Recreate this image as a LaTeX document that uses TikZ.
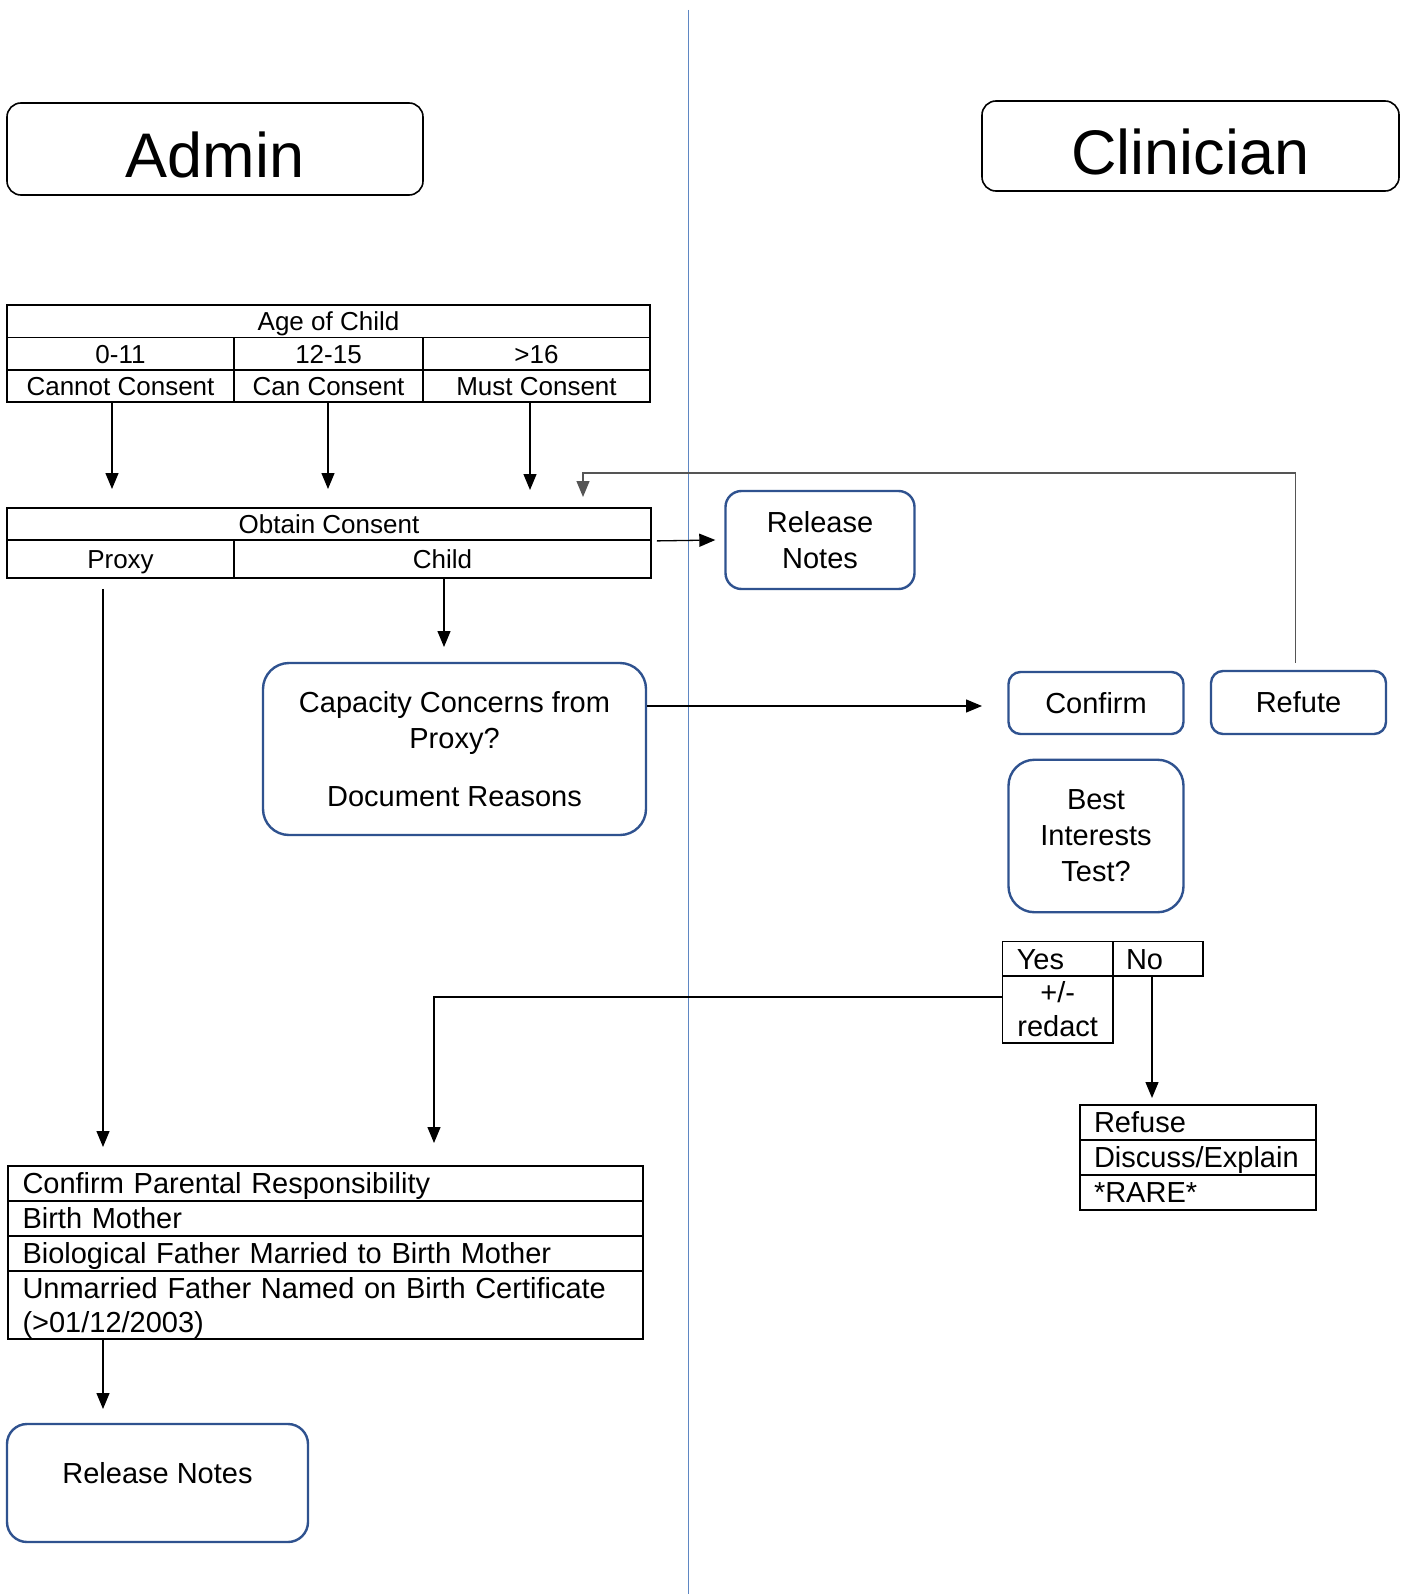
\documentclass[tikz,border=0pt]{standalone}
\usepackage{fontspec}
\setmainfont{Liberation Sans}
\usetikzlibrary{arrows.meta}
\definecolor{boxblue}{RGB}{47,82,143}
\definecolor{divblue}{RGB}{95,135,195}
\definecolor{fbgray}{RGB}{85,85,85}
\begin{document}
\begin{tikzpicture}[x=1pt,y=-1pt,
  one/.style={text height=24.6pt, text depth=3.9pt},
  cell/.style={draw=black, line width=1.8pt, rectangle, inner sep=0pt, text height=22pt, text depth=3.4pt, font=\fontsize{26}{30}\selectfont},
  lcell/.style={draw=black, line width=1.8pt, rectangle, inner sep=0pt, align=left, font=\fontsize{29}{34}\selectfont},
  ccell/.style={draw=black, line width=1.8pt, rectangle, inner sep=0pt, align=center, font=\fontsize{29}{34}\selectfont},
  bluebox/.style={draw=boxblue, line width=2.4pt, rectangle, inner sep=0pt, align=center, font=\fontsize{29}{36}\selectfont},
  titlebox/.style={draw=black, line width=1.6pt, rectangle, rounded corners=14pt, inner sep=0pt, text height=58pt, text depth=0pt, font=\fontsize{63}{70}\selectfont},
  arr/.style={line width=1.3pt, draw=black, -{Triangle[length=16pt,width=13pt]}},
]
\fill[white] (0,0) rectangle (1404,1594);
\useasboundingbox (0,0) rectangle (1404,1594);

% divider
\draw[divblue, line width=1pt] (688,10) -- (688,1594);

% titles
\node[titlebox, minimum width=416pt, minimum height=92pt] (admin) at (215,149) {Admin};
\node[titlebox, minimum width=417pt, minimum height=90pt] (clinician) at (1190.5,146) {Clinician};

% age table
\node[cell, minimum width=643pt, minimum height=32.5pt] (agehead) at (328.5,321.25) {Age of Child};
\node[cell, minimum width=227pt, minimum height=32.5pt] (age1) at (120.5,353.75) {0-11};
\node[cell, minimum width=189pt, minimum height=32.5pt] (age2) at (328.5,353.75) {12-15};
\node[cell, minimum width=227pt, minimum height=32.5pt] (age3) at (536.5,353.75) {>16};
\node[cell, minimum width=227pt, minimum height=32pt] (cons1) at (120.5,386) {Cannot Consent};
\node[cell, minimum width=189pt, minimum height=32pt] (cons2) at (328.5,386) {Can Consent};
\node[cell, minimum width=227pt, minimum height=32pt] (cons3) at (536.5,386) {Must Consent};

% obtain consent table
\node[cell, minimum width=644pt, minimum height=32pt] (obtain) at (329,524) {Obtain Consent};
\node[cell, minimum width=227pt, minimum height=38pt] (proxy) at (120.5,559) {Proxy};
\node[cell, minimum width=417pt, minimum height=38pt] (child) at (442.5,559) {Child};

% arrows age -> obtain
\coordinate (tip1) at (112,489);
\coordinate (tip2) at (328,489);
\coordinate (tip3) at (530,490);
\draw[arr] (tip1 |- cons1.south) -- (tip1);
\draw[arr] (tip2 |- cons2.south) -- (tip2);
\draw[arr] (tip3 |- cons3.south) -- (tip3);

% release notes (top)
\node[bluebox, minimum width=189pt, minimum height=98pt, rounded corners=16pt] (rel1) at (820,540) {Release\\Notes};
\draw[arr] ([xshift=5pt]obtain.south east) -- ([xshift=-9pt]rel1.west);

% capacity
\node[bluebox, minimum width=383pt, minimum height=172pt, rounded corners=26pt] (cap) at (454.5,749) {Capacity Concerns from\\Proxy?\\[22pt]Document Reasons};
\coordinate (tipC) at (444,647);
\draw[arr] (tipC |- child.south) -- (tipC);

% clinician boxes
\node[bluebox, minimum width=175pt, minimum height=62pt, rounded corners=12pt] (confirm) at (1096,703) {Confirm};
\node[bluebox, minimum width=175pt, minimum height=63pt, rounded corners=12pt] (refute) at (1298.5,702.5) {Refute};
\node[bluebox, minimum width=175pt, minimum height=152.5pt, rounded corners=26pt] (best) at (1096,836) {Best\\Interests\\Test?};

\coordinate (ctip) at (982,706);
\draw[arr] (cap.east |- ctip) -- (ctip);

% feedback refute -> obtain
\coordinate (fbcorner) at (583,473);
\coordinate (fbtip) at (583,497);
\draw[arr, draw=fbgray] ([yshift=7pt,xshift=-3pt]refute.north) |- (fbcorner) -- (fbtip);

% yes/no table
\node[lcell, one, minimum width=110.5pt, minimum height=34.5pt, text width=82pt] (yes) at (1057.75,958.75) {Yes};
\node[lcell, one, minimum width=90pt, minimum height=34.5pt, text width=64pt] (no) at (1158,958.75) {No};
\node[ccell, minimum width=110.5pt, minimum height=67pt] (redact) at (1057.75,1009.5) {+/-\\redact};

% refuse table
\node[lcell, one, minimum width=236pt, minimum height=35pt, text width=208pt] (refuse) at (1198,1122.5) {Refuse};
\node[lcell, one, minimum width=236pt, minimum height=35pt, text width=208pt] (discuss) at (1198,1157.5) {Discuss/Explain};
\node[lcell, one, minimum width=236pt, minimum height=35pt, text width=208pt] (rare) at (1198,1192.5) {*RARE*};

\coordinate (ntip) at (1152,1098);
\draw[arr] (ntip |- no.south) -- (ntip);

% yes -> parental
\coordinate (ycorner) at (434,997);
\coordinate (ytip) at (434,1143);
\draw[arr] (redact.west |- ycorner) -- (ycorner) -- (ytip);

% proxy -> parental
\coordinate (ptip) at (103,1147);
\draw[arr] ([yshift=-10pt]ptip |- proxy.south) -- (ptip);

% parental table
\node[lcell, one, minimum width=635pt, minimum height=35pt, text width=606pt] (par1) at (325.5,1183.5) {Confirm Parental Responsibility};
\node[lcell, one, minimum width=635pt, minimum height=35pt, text width=606pt] (par2) at (325.5,1218.5) {Birth Mother};
\node[lcell, one, minimum width=635pt, minimum height=35pt, text width=606pt] (par3) at (325.5,1253.5) {Biological Father Married to Birth Mother};
\node[lcell, minimum width=635pt, minimum height=68pt, text width=606pt] (par4) at (325.5,1305) {\rule{0pt}{27.5pt}Unmarried Father Named on Birth Certificate\\(>01/12/2003)};

\coordinate (rtip) at (103,1409);
\draw[arr] (rtip |- par4.south) -- (rtip);

% release notes (bottom)
\node[bluebox, minimum width=301pt, minimum height=118pt, rounded corners=20pt, text height=21pt, text depth=20pt] (rel2) at (157.5,1483) {Release Notes};

\end{tikzpicture}
\end{document}
